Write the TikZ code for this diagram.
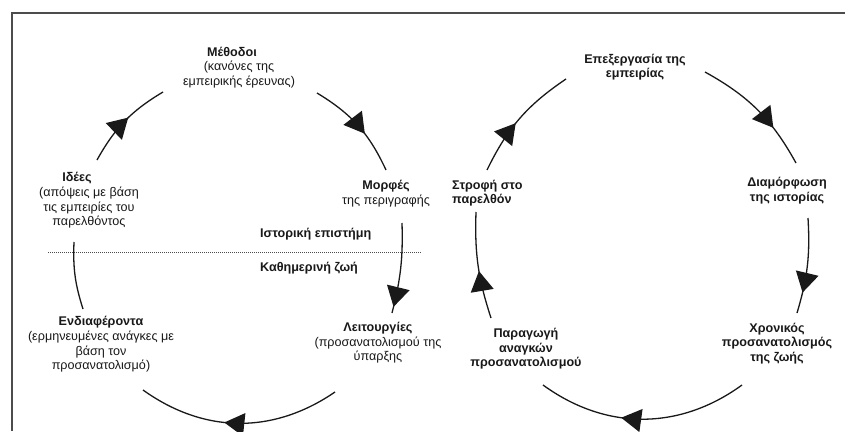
\documentclass[tikz,border=0pt]{standalone}
\usepackage{fontspec}
\setmainfont{Liberation Sans}
\usetikzlibrary{decorations.markings,arrows.meta}
\tikzset{
  txt/.style={align=center,inner sep=0pt,font=\fontsize{12.6}{14.6}\selectfont,text=black!90},
  btxt/.style={txt,font=\fontsize{12.6}{14.6}\selectfont\bfseries},
  cyc/.style={line width=1.3pt,black!90},
  arrowat/.style={postaction={decorate,decoration={markings,
      mark=at position #1 with {\arrow{Triangle[length=20pt,width=23pt]}}}}},
}
\begin{document}
\begin{tikzpicture}[x=1pt,y=1pt]
\useasboundingbox (0,0) rectangle (845,-431);
\fill[white] (0,0) rectangle (845,-431);
% frame
\draw[line width=2pt,black!70] (12,-431) -- (12,-13) -- (845,-13);
% dotted separator
\coordinate (dotL) at (48,-252);
\coordinate (dotR) at (422,-252);
\draw[line width=0.9pt,black!70,dash pattern=on 1pt off 1pt] (dotL) -- (dotR);

% ---------- left cycle texts ----------
\node[txt] (meth) at (239,-67.5) {\hspace*{-14pt}\textbf{Μέθοδοι}\\(κανόνες της\\εμπειρικής έρευνας)};
\node[txt] (idees) at (89,-200.5) {\hspace*{-24pt}\textbf{Ιδέες}\\(απόψεις με βάση\\τις εμπειρίες του\\παρελθόντος};
\node[txt] (morf) at (386,-193.5) {\textbf{Μορφές}\\της περιγραφής};
\node[btxt,anchor=west] (ist) at (260,-234) {Ιστορική επιστήμη};
\node[btxt,anchor=west] (kath) at (260,-268) {Καθημερινή ζωή};
\node[txt] (endi) at (101,-344.5) {\textbf{Ενδιαφέροντα}\\(ερμηνευμένες ανάγκες με\\βάση τον\\προσανατολισμό)};
\node[txt] (leit) at (378,-343) {\textbf{Λειτουργίες}\\(προσανατολισμού της\\ύπαρξης};

% ---------- right cycle texts ----------
\node[btxt] (epex) at (635,-67) {Επεξεργασία της\\εμπειρίας};
\node[btxt,align=left,anchor=west] (strof) at (452,-193) {Στροφή στο\\παρελθόν};
\node[btxt] (diam) at (787,-190.5) {Διαμόρφωση\\της ιστορίας};
\node[btxt] (parag) at (526,-349) {Παραγωγή\\αναγκών\\προσανατολισμού};
\node[btxt] (xron) at (777,-343.5) {Χρονικός\\προσανατολισμός\\της ζωής};

% ---------- left cycle arcs ----------
\coordinate (a1s) at (97,-160);  \coordinate (a1e) at (163,-92);
\coordinate (a2s) at (317,-93);  \coordinate (a2e) at (386,-170);
\coordinate (a3s) at (402,-223); \coordinate (a3e) at (392,-313);
\coordinate (a4s) at (74,-242);  \coordinate (a4e) at (83,-309);
\coordinate (a5s) at (335,-392); \coordinate (a5e) at (143,-390);
\draw[cyc,arrowat=0.55] (a1s) to[bend left=15] (a1e);
\draw[cyc,arrowat=0.6] (a2s) to[bend left=17] (a2e);
\draw[cyc,arrowat=0.93] (a3s) to[bend left=8] (a3e);
\draw[cyc] (a4s) to[bend right=10] (a4e);
\draw[cyc,arrowat=0.57] (a5s) to[bend left=35] (a5e);

% ---------- right cycle arcs ----------
\coordinate (b1s) at (487,-170); \coordinate (b1e) at (566,-79);
\coordinate (b2s) at (705,-72);  \coordinate (b2e) at (796,-163);
\coordinate (b3s) at (808,-218); \coordinate (b3e) at (797,-313);
\coordinate (b4s) at (491,-318); \coordinate (b4e) at (476,-212);
\coordinate (b5s) at (742,-385); \coordinate (b5e) at (543,-385);
\draw[cyc,arrowat=0.45] (b1s) to[bend left=15] (b1e);
\draw[cyc,arrowat=0.68] (b2s) to[bend left=16] (b2e);
\draw[cyc,arrowat=0.78] (b3s) to[bend left=10] (b3e);
\draw[cyc,arrowat=0.45] (b4s) to[bend left=10] (b4e);
\draw[cyc,arrowat=0.6] (b5s) to[bend left=36] (b5e);
\end{tikzpicture}
\end{document}
